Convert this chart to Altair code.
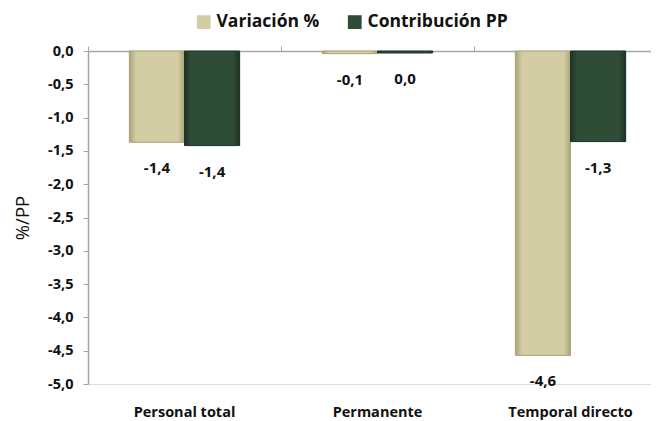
import altair as alt
import pandas as pd

categories = ["Personal total", "Permanente", "Temporal directo"]
series = ["Variación %", "Contribución PP"]
variacion = [-1.37, -0.04, -4.57]
contribucion = [-1.42, -0.03, -1.36]
label_variacion = ["-1,4", "-0,1", "-4,6"]
label_contribucion = ["-1,4", "0,0", "-1,3"]
y_ticks = [0.0, -0.5, -1.0, -1.5, -2.0, -2.5, -3.0, -3.5, -4.0, -4.5, -5.0]
colors = ["#D3CDA3", "#2F4C37"]
edge_colors = ["#A9A37A", "#1E3325"]

rows = []
for i, c in enumerate(categories):
    rows.append({"categoria": c, "serie": series[0], "valor": variacion[i], "etiqueta": label_variacion[i]})
    rows.append({"categoria": c, "serie": series[1], "valor": contribucion[i], "etiqueta": label_contribucion[i]})
df = pd.DataFrame(rows)

FONT = "Open Sans"

y_enc = alt.Y(
    "valor:Q",
    scale=alt.Scale(domain=[-5, 0], nice=False, zero=False),
    axis=alt.Axis(
        values=y_ticks,
        labelExpr="replace(replace(format(datum.value, '.1f'), '.', ','), '\u2212', '-')",
        title="%/PP",
        titleFont=FONT,
        titleFontSize=18.5,
        titleFontWeight="normal",
        titleColor="#111111",
        titlePadding=15,
        labelFont=FONT,
        labelFontSize=14.5,
        labelFontWeight="bold",
        labelColor="#111111",
        labelPadding=10,
        tickSize=5,
        tickColor="#A6A6A6",
        domainColor="#A6A6A6",
        domainWidth=1.5,
        grid=False,
    ),
)

x_scale = alt.Scale(range=[0, 579], paddingInner=0, paddingOuter=0)
xo_enc = alt.XOffset("serie:N", sort=series, scale=alt.Scale(paddingOuter=0.75, paddingInner=0))

base = alt.Chart(df)

bars = base.mark_bar(stroke=None).encode(
    x=alt.X(
        "categoria:N",
        sort=categories,
        scale=x_scale,
        axis=alt.Axis(
            orient="bottom",
            title=None,
            domain=False,
            ticks=False,
            labelAngle=0,
            labelFont=FONT,
            labelFontSize=14.5,
            labelFontWeight="bold",
            labelColor="#111111",
            labelPadding=21,
        ),
    ),
    xOffset=xo_enc,
    y=y_enc,
    color=alt.Color(
        "serie:N",
        sort=series,
        scale=alt.Scale(domain=series, range=colors),
        legend=alt.Legend(
            title=None,
            orient="none",
            legendX=107,
            legendY=-38,
            direction="horizontal",
            symbolType="square",
            symbolSize=190,
            symbolStrokeWidth=0,
            labelFont=FONT,
            labelFontSize=17.5,
            labelFontWeight="bold",
            labelColor="#111111",
            columnPadding=26,
            labelOffset=4,
        ),
    ),
)

overlays = []
for s, col, edge in zip(series, colors, edge_colors):
    grad = alt.Gradient(
        gradient="linear",
        x1=0, x2=1, y1=0, y2=0,
        stops=[
            alt.GradientStop(offset=0, color=edge),
            alt.GradientStop(offset=0.12, color=col),
            alt.GradientStop(offset=0.88, color=col),
            alt.GradientStop(offset=1, color=edge),
        ],
    )
    overlays.append(
        base.transform_filter(alt.datum.serie == s)
        .mark_bar(color=grad, stroke=edge, strokeWidth=1)
        .encode(
            x=alt.X("categoria:N", sort=categories, scale=x_scale, axis=None),
            xOffset=xo_enc,
            y=y_enc,
        )
    )

labels = base.mark_text(
    dy=26, font=FONT, fontSize=15, fontWeight="bold", color="#111111", baseline="middle"
).encode(
    x=alt.X(
        "categoria:N",
        sort=categories,
        scale=x_scale,
        axis=alt.Axis(
            orient="top",
            title=None,
            labels=False,
            domain=True,
            ticks=True,
            tickSize=5,
            bandPosition=0,
            tickColor="#A6A6A6",
            domainColor="#A6A6A6",
            domainWidth=1.5,
        ),
    ),
    xOffset=xo_enc,
    y=y_enc,
    text="etiqueta:N",
)

chart = (
    alt.layer(bars, *overlays, labels)
    .resolve_axis(x="independent")
    .properties(
        width=563,
        height=333,
        autosize=alt.AutoSizeParams(type="none"),
        padding={"left": 80, "top": 43, "right": 0, "bottom": 37},
    )
    .configure_view(stroke=None)
    .configure(background="white")
)

chart.save("out.html", embed_options={"renderer": "svg", "actions": False})
